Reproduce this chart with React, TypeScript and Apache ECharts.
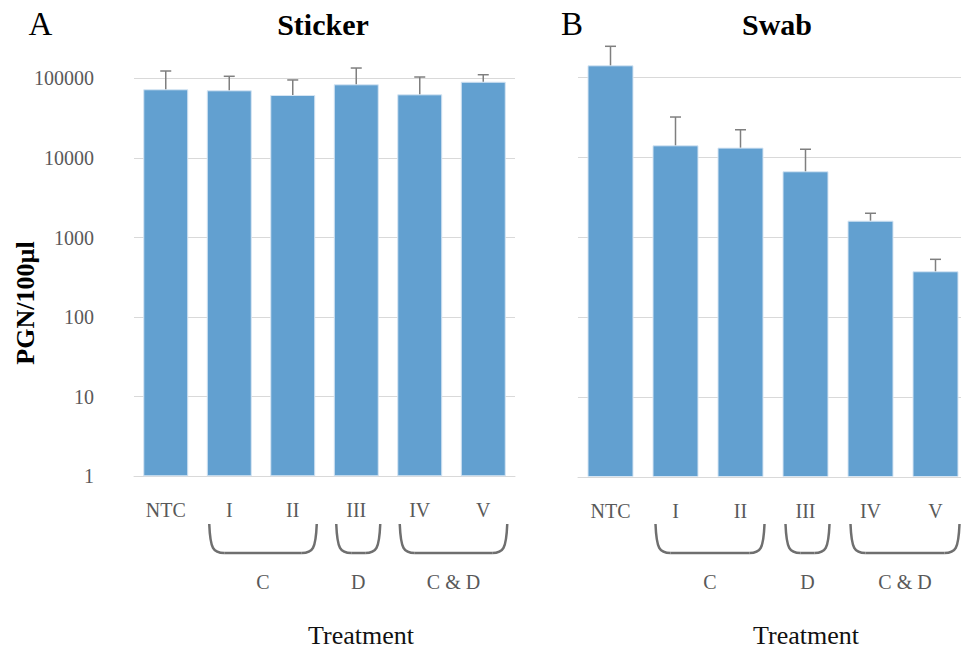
import React, { useEffect, useRef } from "react";
import * as echarts from "echarts";

const categories = ["NTC", "I", "II", "III", "IV", "V"];
const stickerMean = [72800, 70700, 61700, 84100, 62900, 90600];
const stickerUpper = [123500, 106000, 95300, 134600, 103800, 110900];
const swabMean = [140000, 14000, 13100, 6630, 1600, 373];
const swabUpper = [242000, 31600, 21900, 12500, 1980, 526];
const groupLabels = ["C", "D", "C & D"];
const groupStart = [1, 3, 4];
const groupEnd = [2, 3, 5];
const panelTitles = ["Sticker", "Swab"];
const panelLetters = ["A", "B"];
const yName = "PGN/100µl";
const xName = "Treatment";

const FONT = "'Liberation Serif', 'Times New Roman', serif";
const GRAY = "#595959";
const BAR = "#62a0d0";
const GRID = "#d9d9d9";
const ERR = "#7f7f7f";
const BRACKET = "#6f6f6f";

const Y_MAX = Math.pow(10, 5.5);

export default function App() {
  const ref = useRef<HTMLDivElement>(null);
  useEffect(() => {
    if (!ref.current) return;
    const chart = echarts.init(ref.current, null, { renderer: "svg" });

    const grids = [
      { left: 134, width: 381, top: 476.3 - 5.5 * 79.6, height: 5.5 * 79.6, outerBoundsMode: "none", containLabel: false },
      { left: 578, width: 390, top: 477 - 5.5 * 80, height: 5.5 * 80, outerBoundsMode: "none", containLabel: false },
    ];

    const mkX = (gi: number) => ({
      type: "category",
      gridIndex: gi,
      data: categories,
      axisLine: { show: true, lineStyle: { color: GRID, width: 1 } },
      axisTick: { show: false },
      axisLabel: {
        margin: 24,
        fontFamily: FONT,
        fontSize: 20,
        color: GRAY,
      },
    });

    const mkY = (gi: number) => ({
      type: "log",
      logBase: 10,
      gridIndex: gi,
      min: 1,
      max: Y_MAX,
      axisLine: { show: false },
      axisTick: { show: false },
      splitLine: { show: true, showMaxLine: false, lineStyle: { color: GRID, width: 1 } },
      axisLabel: {
        show: gi === 0,
        showMaxLabel: false,
        margin: 40,
        fontFamily: FONT,
        fontSize: 20,
        color: GRAY,
        formatter: (v: number) => (v > 100001 ? "" : String(Math.round(v))),
      },
    });

    const errRender = (params: any, api: any) => {
      const x = api.value(0);
      const p0 = api.coord([x, api.value(1)]);
      const p1 = api.coord([x, api.value(2)]);
      const style = { stroke: ERR, lineWidth: 1.5 };
      return {
        type: "group",
        children: [
          { type: "line", shape: { x1: p0[0], y1: p0[1], x2: p1[0], y2: p1[1] }, style },
          { type: "line", shape: { x1: p1[0] - 5.5, y1: p1[1], x2: p1[0] + 5.5, y2: p1[1] }, style },
        ],
      };
    };

    const means = [stickerMean, swabMean];
    const uppers = [stickerUpper, swabUpper];
    const series: any[] = [];
    [0, 1].forEach((gi) => {
      series.push({
        type: "bar",
        xAxisIndex: gi,
        yAxisIndex: gi,
        data: means[gi],
        barWidth: gi === 0 ? 45 : 46,
        itemStyle: { color: BAR, borderColor: "#d6e5f3", borderWidth: 1 },
        z: 2,
      });
      series.push({
        type: "custom",
        xAxisIndex: gi,
        yAxisIndex: gi,
        renderItem: errRender,
        data: categories.map((_, i) => [i, means[gi][i], uppers[gi][i]]),
        z: 3,
      });
    });

    chart.setOption({
      animation: false,
      grid: grids,
      xAxis: [mkX(0), mkX(1)],
      yAxis: [mkY(0), mkY(1)],
      series,
    });

    const graphics: any[] = [];
    const textEl = (text: string, x: number, y: number, size: number, opts: any = {}) => ({
      type: "text",
      x,
      y,
      rotation: opts.rotation || 0,
      style: {
        text,
        fontFamily: FONT,
        fontSize: size,
        fontWeight: opts.bold ? "bold" : "normal",
        fill: opts.color || "#000",
        align: "center",
        verticalAlign: "middle",
      },
    });

    const titleX = [323, 777];
    const letterX = [40.5, 572];
    const treatX = [361, 806];
    [0, 1].forEach((gi) => {
      graphics.push(textEl(panelTitles[gi], titleX[gi], 24, 30, { bold: true }));
      graphics.push(textEl(panelLetters[gi], letterX[gi], 24, 33));
      graphics.push(textEl(xName, treatX[gi], 635, 26, { color: "#111" }));

      groupLabels.forEach((lab, k) => {
        const xa = chart.convertToPixel({ xAxisIndex: gi } as any, categories[groupStart[k]]) as number;
        const xb = chart.convertToPixel({ xAxisIndex: gi } as any, categories[groupEnd[k]]) as number;
        const L = xa - 20;
        const R = xb + 24;
        const y0 = 524;
        const y1 = 553;
        const r = 15;
        const st = { stroke: BRACKET, lineWidth: 2.5, fill: null };
        graphics.push({
          type: "group",
          children: [
            {
              type: "bezierCurve",
              shape: { x1: L, y1: y0, cpx1: L + 1, cpy1: y1 - 4, cpx2: L + 4, cpy2: y1, x2: L + r, y2: y1 },
              style: st,
            },
            { type: "line", shape: { x1: L + r, y1: y1, x2: R - r, y2: y1 }, style: st },
            {
              type: "bezierCurve",
              shape: { x1: R, y1: y0, cpx1: R - 1, cpy1: y1 - 4, cpx2: R - 4, cpy2: y1, x2: R - r, y2: y1 },
              style: st,
            },
          ],
        });
        graphics.push(textEl(lab, (L + R) / 2, 582, 20, { color: GRAY }));
      });
    });
    graphics.push(textEl(yName, 25, 303, 26, { bold: true, rotation: Math.PI / 2 }));

    chart.setOption({ graphic: graphics });

    return () => chart.dispose();
  }, []);

  return (
    <div
      ref={ref}
      style={{ position: "absolute", left: 0, top: 0, width: 961, height: 650, background: "#fff" }}
    />
  );
}
